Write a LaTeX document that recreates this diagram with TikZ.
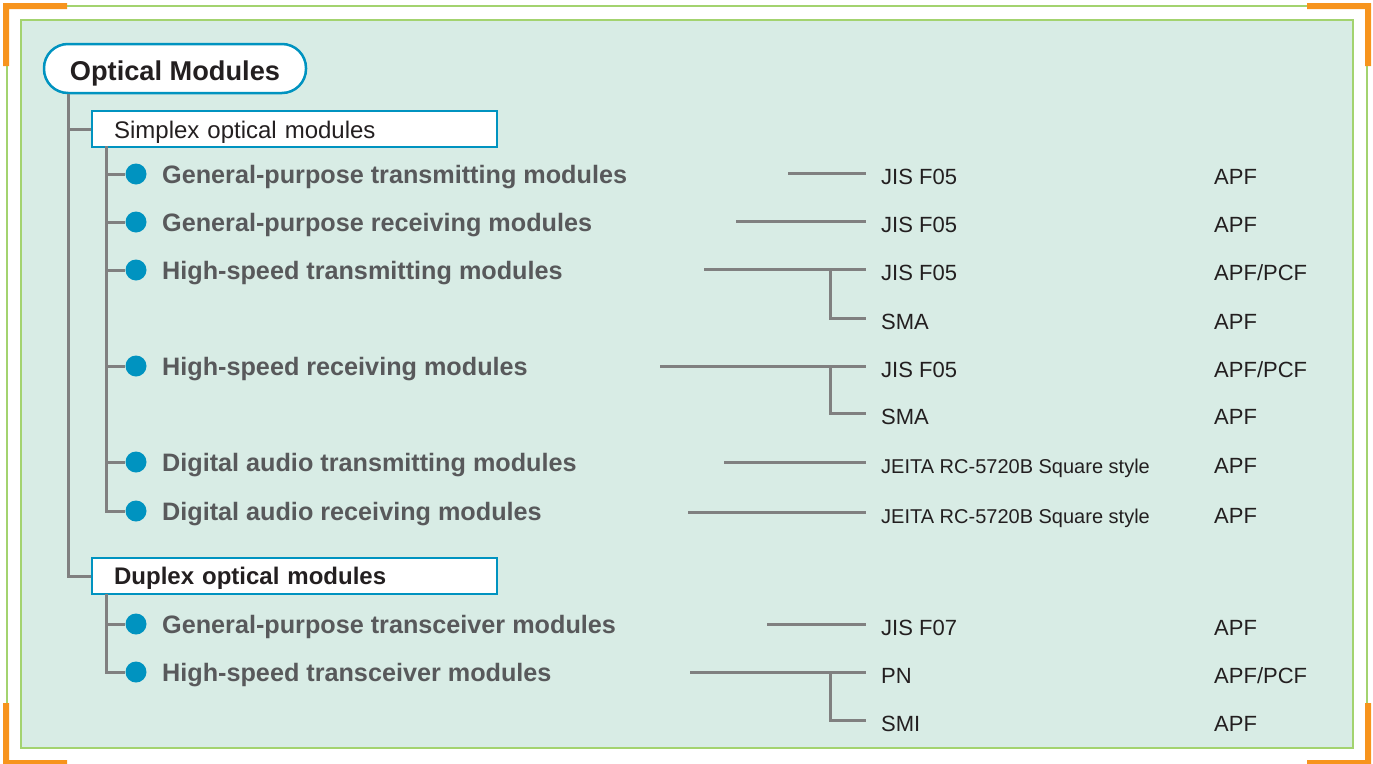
\documentclass[tikz,border=0pt]{standalone}
\usepackage{fontspec}
\setmainfont{Liberation Sans}
\definecolor{panelfill}{HTML}{D8ECE5}
\definecolor{panelline}{HTML}{A3D36F}
\definecolor{cornerorange}{HTML}{F7941D}
\definecolor{boxblue}{HTML}{0093C0}
\definecolor{linegray}{HTML}{808080}
\definecolor{itemgray}{HTML}{58595B}
\definecolor{textdark}{HTML}{231F20}
\tikzset{
  conn/.style={linegray, line width=3pt},
  titlebox/.style={draw=boxblue, fill=white, line width=2.5pt, rounded corners=24pt,
    minimum width=262pt, minimum height=49pt, inner ysep=0pt, text height=28pt,
    text depth=5pt, text=textdark, font=\fontsize{27.2}{30}\selectfont\bfseries},
  groupbox/.style={draw=boxblue, fill=white, line width=2.2pt, anchor=north west,
    minimum width=405pt, minimum height=36pt, inner xsep=22pt, inner ysep=0pt,
    text width=361pt, text height=22pt, text depth=4pt, align=left, text=textdark,
    font=\fontsize{24}{26}\selectfont},
  dot/.style={circle, fill=boxblue, inner sep=0pt, minimum size=21pt},
  item/.style={anchor=west, inner sep=0pt, text height=24pt, text depth=6pt,
    text=itemgray, font=\fontsize{25.2}{27}\selectfont\bfseries},
  port/.style={anchor=west, inner xsep=15pt, inner ysep=0pt, text height=22pt,
    text depth=0pt, text=textdark, font=\fontsize{22}{24}\selectfont},
  fiber/.style={port, inner xsep=0pt},
}
\begin{document}
\begin{tikzpicture}[x=1pt,y=-1pt]
    \useasboundingbox (0,0) rectangle (1373,763);
    % frame
    \draw[panelline, line width=1.2pt] (7,6) rectangle (1367,766);
    \fill[cornerorange] (3,3) rectangle (67,9) (3,3) rectangle (9,66);
    \fill[cornerorange] (1307,3) rectangle (1371,9) (1365,3) rectangle (1371,66);
    \fill[cornerorange] (3,760) rectangle (67,766) (3,703) rectangle (9,766);
    \fill[cornerorange] (1307,760) rectangle (1371,766) (1365,703) rectangle (1371,766);
    \draw[panelline, fill=panelfill, line width=1.5pt] (21,20) rectangle (1353,748);

    % tree
    \node[titlebox] (title) at (175,68.5) {Optical Modules};
    \node[groupbox] (simplex) at (91,110) {Simplex optical modules};
    \node[groupbox, text height=21pt, font=\fontsize{24}{26}\selectfont\bfseries] (duplex) at (91,557) {Duplex optical modules};
    \coordinate (ttrunk) at (68,94);
    \draw[conn] (ttrunk) |- (duplex.west);
    \draw[conn] (ttrunk |- simplex.west) -- (simplex.west);

    \node[dot] (d1) at (136,174) {};
    \node[dot] (d2) at (136,222) {};
    \node[dot] (d3) at (136,270) {};
    \node[dot] (d4) at (136,366) {};
    \node[dot] (d5) at (136,462) {};
    \node[dot] (d6) at (136,511) {};
    \node[dot] (d7) at (136,624) {};
    \node[dot] (d8) at (136,672) {};
    \node[item] (i1) at (162,174) {General-purpose transmitting modules};
    \node[item] (i2) at (162,222) {General-purpose receiving modules};
    \node[item] (i3) at (162,270) {High-speed transmitting modules};
    \node[item] (i4) at (162,366) {High-speed receiving modules};
    \node[item] (i5) at (162,462) {Digital audio transmitting modules};
    \node[item] (i6) at (162,511) {Digital audio receiving modules};
    \node[item] (i7) at (162,624) {General-purpose transceiver modules};
    \node[item] (i8) at (162,672) {High-speed transceiver modules};

    \coordinate (strunk) at (106,146);
    \coordinate (dtrunk) at (106,594);
    \draw[conn] (strunk) |- (d6);
    \foreach \i in {1,...,5}
        \draw[conn] (strunk |- d\i) -- (d\i);
    \draw[conn] (dtrunk) |- (d8);
    \draw[conn] (dtrunk |- d7) -- (d7);

    % connectors and fibres
    \node[port] (p1) at (866,173) {JIS F05};
    \node[port] (p2) at (866,221) {JIS F05};
    \node[port] (p3) at (866,269) {JIS F05};
    \node[port] (p4) at (866,318) {SMA};
    \node[port] (p5) at (866,366) {JIS F05};
    \node[port] (p6) at (866,413) {SMA};
    \node[port, font=\fontsize{20}{22}\selectfont] (p7) at (866,462) {JEITA RC-5720B Square style};
    \node[port, font=\fontsize{20}{22}\selectfont] (p8) at (866,512) {JEITA RC-5720B Square style};
    \node[port] (p9) at (866,624) {JIS F07};
    \node[port] (p10) at (866,672) {PN};
    \node[port] (p11) at (866,720) {SMI};

    \node[fiber] (f1) at (1214,173) {APF};
    \node[fiber] (f2) at (1214,221) {APF};
    \node[fiber] (f3) at (1214,269) {APF/PCF};
    \node[fiber] (f4) at (1214,318) {APF};
    \node[fiber] (f5) at (1214,366) {APF/PCF};
    \node[fiber] (f6) at (1214,413) {APF};
    \node[fiber] (f7) at (1214,462) {APF};
    \node[fiber] (f8) at (1214,512) {APF};
    \node[fiber] (f9) at (1214,624) {APF};
    \node[fiber] (f10) at (1214,672) {APF/PCF};
    \node[fiber] (f11) at (1214,720) {APF};

    \coordinate (c1) at (788,173);
    \coordinate (c2) at (736,221);
    \coordinate (c3) at (704,269);
    \coordinate (c5) at (660,366);
    \coordinate (c7) at (724,462);
    \coordinate (c8) at (688,512);
    \coordinate (c9) at (767,624);
    \coordinate (c10) at (690,672);
    \foreach \i in {1,2,3,5,7,8,9,10}
        \draw[conn] (c\i) -- (p\i.west);
    \coordinate (k3) at (830,269);
    \coordinate (k5) at (830,366);
    \coordinate (k10) at (830,672);
    \draw[conn] (k3) |- (p4.west);
    \draw[conn] (k5) |- (p6.west);
    \draw[conn] (k10) |- (p11.west);
\end{tikzpicture}
\end{document}
